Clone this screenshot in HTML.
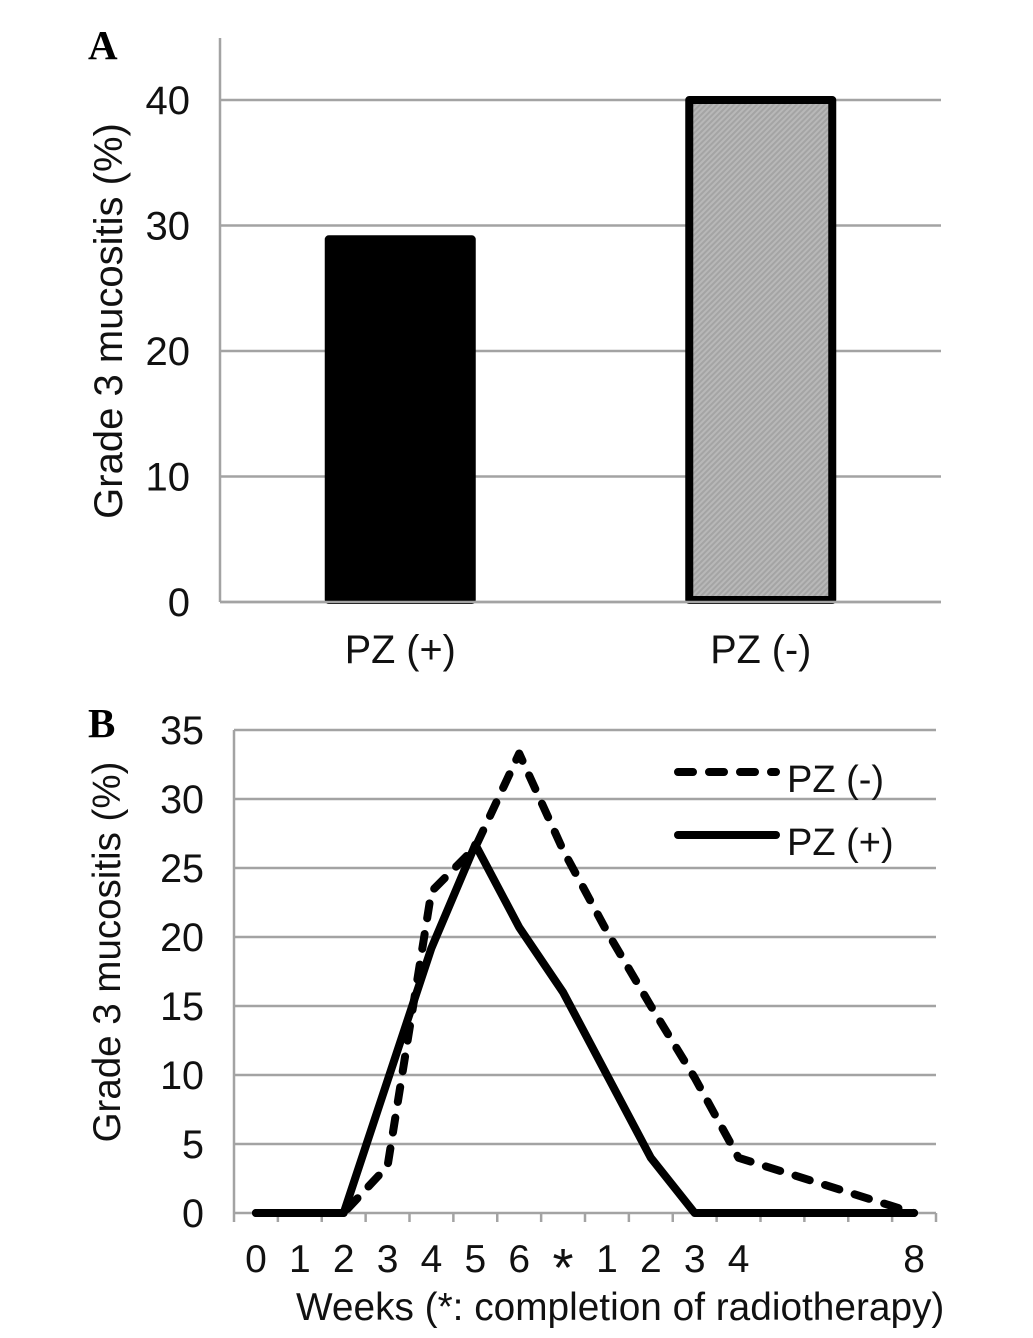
<!DOCTYPE html>
<html lang="en">
<head>
<meta charset="utf-8">
<title>Grade 3 mucositis charts</title>
<style>
html,body{margin:0;padding:0;background:#fff;width:1033px;height:1338px;overflow:hidden}
svg{display:block}
text{font-family:"Liberation Sans",sans-serif;fill:#111}
.panel{font-family:"Liberation Serif",serif;font-weight:bold;font-size:41px;fill:#000}
</style>
</head>
<body>
<svg id="figure" width="1033" height="1338" viewBox="0 0 1033 1338" xmlns="http://www.w3.org/2000/svg">
<defs>
<pattern id="hatch" patternUnits="userSpaceOnUse" width="4" height="4" patternTransform="rotate(-45)">
<rect width="4" height="4" fill="#b8b8b8"/>
<rect width="4" height="2" fill="#a4a4a4"/>
</pattern>
</defs>
<text class="panel" x="88" y="59">A</text>
<text class="panel" x="88" y="737">B</text>
<text font-size="40" text-anchor="middle" transform="translate(122,321) rotate(-90)">Grade 3 mucositis (%)</text>
<text font-size="38.5" text-anchor="middle" transform="translate(120,952) rotate(-90)">Grade 3 mucositis (%)</text>
<text font-size="38.8" x="296" y="1320">Weeks (*: completion of radiotherapy)</text>
<g id="chart-a"></g>
<g id="chart-b"></g>
<g>
<line x1="678" y1="772" x2="776" y2="772" stroke="#000" stroke-width="8" stroke-linecap="round" stroke-dasharray="15 16"/>
<text font-size="38" x="787" y="792">PZ (-)</text>
<line x1="678" y1="835" x2="776" y2="835" stroke="#000" stroke-width="8" stroke-linecap="round"/>
<text font-size="38" x="787" y="855">PZ (+)</text>
</g>
</svg>
<script>
// Panel A data
const barCategories = ["PZ (+)", "PZ (-)"];
const barValues = [28.9, 40];
const barTicks = [0, 10, 20, 30, 40];

// Panel B data
const weekLabels = ["0","1","2","3","4","5","6","*","1","2","3","4","","","","8"];
const seriesPzMinus = [0,0,0,3.4,23.3,26.5,33.3,26.3,20.4,15,9.8,4,null,null,null,0];
const seriesPzPlus = [0,0,0,9.6,19.2,26.7,20.7,16,10,4,0,0,null,null,null,0];
const lineTicks = [0,5,10,15,20,25,30,35];

const NS = "http://www.w3.org/2000/svg";
function make(parent, tag, attrs) {
  const el = document.createElementNS(NS, tag);
  for (const k in attrs) el.setAttribute(k, attrs[k]);
  parent.appendChild(el);
  return el;
}
const GRID = "#a3a3a3";

// ---------- Panel A ----------
const a = document.getElementById("chart-a");
const aLeft = 220, aRight = 941, aBase = 602, aTop = 38;
const aY = v => aBase - v * 12.55;
const aBand = (aRight - aLeft) / barCategories.length;
const aX = i => aLeft + aBand * (i + 0.5);

barTicks.forEach(t => {
  const grid = make(a, "line", {x1: aLeft, x2: aRight, y1: aY(t), y2: aY(t), stroke: GRID, "stroke-width": 2.5});
  
  
  const label = make(a, "text", {x: 190, y: aY(t) + 14, "text-anchor": "end", "font-size": 40});
  
  
  label.textContent = t;
});
const aAxis = make(a, "line", {x1: aLeft, x2: aLeft, y1: aTop, y2: aBase, stroke: GRID, "stroke-width": 2.5});



barCategories.forEach((c, i) => {
  const top = aY(barValues[i]);
  const bar = make(a, "rect", {
    x: aX(i) - 71.5, y: top, width: 143, height: aBase - 2 - top,
    fill: i === 0 ? "#000" : "url(#hatch)", stroke: "#000", "stroke-width": 8, "stroke-linejoin": "round"
  });
  
  
  const label = make(a, "text", {x: aX(i), y: 663, "text-anchor": "middle", "font-size": 39.6});
  
  
  label.textContent = c;
});
const aBaseLine = make(a, "line", {x1: aLeft, x2: aRight, y1: aBase, y2: aBase, stroke: GRID, "stroke-width": 2.5});



// ---------- Panel B ----------
const b = document.getElementById("chart-b");
const bLeft = 234, bRight = 936, bBase = 1213;
const bY = v => bBase - v * 13.8;
const bBand = (bRight - bLeft) / weekLabels.length;
const bX = i => bLeft + bBand * (i + 0.5);

lineTicks.forEach(t => {
  const grid = make(b, "line", {x1: bLeft, x2: bRight, y1: bY(t), y2: bY(t), stroke: GRID, "stroke-width": 2.5});
  
  
  const label = make(b, "text", {x: 204, y: bY(t) + 14, "text-anchor": "end", "font-size": 39.5});
  
  
  label.textContent = t;
});
const bAxis = make(b, "line", {x1: bLeft, x2: bLeft, y1: bY(35), y2: bBase + 9, stroke: GRID, "stroke-width": 2.5});



weekLabels.forEach((w, i) => {
  const tick = make(b, "line", {x1: bLeft + bBand * (i + 1), x2: bLeft + bBand * (i + 1), y1: bBase, y2: bBase + 9, stroke: GRID, "stroke-width": 2.5});
  
  
  if (w) {
    const label = make(b, "text", {x: bX(i), y: w === "*" ? 1286 : 1272, "text-anchor": "middle", "font-size": w === "*" ? 54 : 39});
    
    
    label.textContent = w;
  }
});

function linePoints(values) {
  const pts = [];
  values.forEach((v, i) => { if (v !== null) pts.push(bX(i) + "," + bY(v)); });
  return pts.join(" ");
}
const lineMinus = make(b, "polyline", {
  points: linePoints(seriesPzMinus), fill: "none", stroke: "#000", "stroke-width": 8,
  "stroke-linecap": "round", "stroke-linejoin": "round", "stroke-dasharray": "15 16"
});


const linePlus = make(b, "polyline", {
  points: linePoints(seriesPzPlus), fill: "none", stroke: "#000", "stroke-width": 8,
  "stroke-linecap": "round", "stroke-linejoin": "round"
});


</script>
</body>
</html>
